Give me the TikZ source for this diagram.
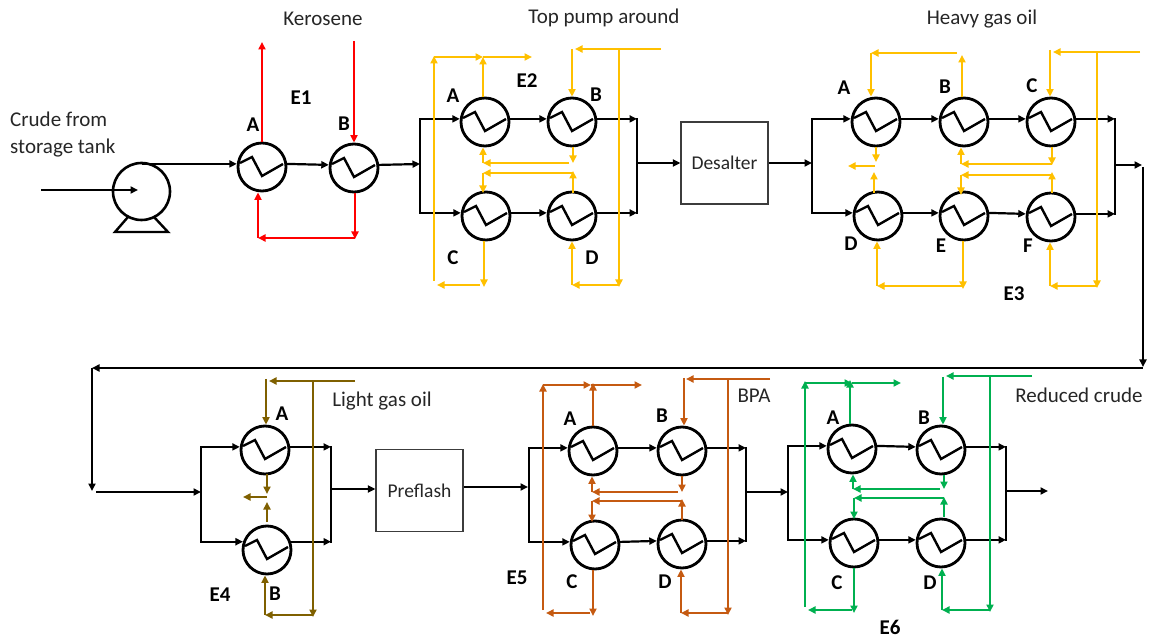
\documentclass[tikz,border=0pt]{standalone}
\usepackage{fontspec}
\setmainfont{Carlito}
\usetikzlibrary{arrows.meta}
\definecolor{corng}{HTML}{FFC000}
\definecolor{cred}{HTML}{FF0000}
\definecolor{colive}{HTML}{7F6000}
\definecolor{crust}{HTML}{C55A11}
\definecolor{cgrn}{HTML}{00B050}
\definecolor{ctext}{HTML}{262626}
\tikzset{
  x=1pt,y=-1pt,
  tip/.style={-{Triangle[length=7.5pt,width=7pt]}},
  flowb/.style={black,line width=2.2pt,tip},
  bar/.style={black,line width=2.4pt,line cap=rect},
  redl/.style={cred,line width=2.3pt,tip},
  orng/.style={corng,line width=2.3pt,tip},
  oliv/.style={colive,line width=2.3pt,tip},
  rust/.style={crust,line width=2.3pt,tip},
  grn/.style={cgrn,line width=2.3pt,tip},
  hxc/.style={circle,draw=black,line width=2.8pt,minimum size=48pt,inner sep=0pt},
  hxz/.style={black,line width=2.4pt,line join=miter},
  unitbox/.style={draw=ctext!90,line width=1.2pt,minimum width=87pt,minimum height=82pt,inner sep=0pt,text=ctext,font=\fontsize{19.5}{23}\selectfont},
  lab/.style={text=ctext,inner sep=0pt,font=\fontsize{21}{27}\selectfont},
  tag/.style={text=black,inner sep=0pt,font=\fontsize{21}{24}\selectfont\bfseries},
}
\newcommand{\hxnode}[3]{%
  \node[hxc] (#1) at (#2,#3) {};
  \draw[hxz,shift={(#1.center)}] (-22,-4) -- (-10,-10) -- (0,9) -- (21,-3);
}
\begin{document}
\begin{tikzpicture}
\useasboundingbox (0,0) rectangle (1149,636);

% ---- text
\node[lab,align=left,anchor=west] (tcrude) at (10,134.5) {Crude from\\storage tank};
\node[lab] (tker) at (323,19) {Kerosene};
\node[lab] (ttop) at (604,18) {Top pump around};
\node[lab] (thgo) at (982,19) {Heavy gas oil};
\node[lab] (tlgo) at (382,401) {Light gas oil};
\node[lab] (tbpa) at (754,396) {BPA};
\node[lab] (trc) at (1079,395) {Reduced crude};

\node[tag] (te1) at (301,98) {E1};
\node[tag] (te2) at (527,81) {E2};
\node[tag] (te3) at (1014,294) {E3};
\node[tag] (te4) at (220,595) {E4};
\node[tag] (te5) at (517,578) {E5};
\node[tag] (te6) at (890,627) {E6};

\node[tag] (l1a) at (253,125) {A};
\node[tag] (l1b) at (344,124) {B};
\node[tag] (l2a) at (453,96) {A};
\node[tag] (l2b) at (596,95) {B};
\node[tag] (l2c) at (453,258) {C};
\node[tag] (l2d) at (592,258) {D};
\node[tag] (l3a) at (844,88) {A};
\node[tag] (l3b) at (945,87) {B};
\node[tag] (l3c) at (1032,86) {C};
\node[tag] (l3d) at (851,244) {D};
\node[tag] (l3e) at (941,246) {E};
\node[tag] (l3f) at (1028,246) {F};
\node[tag] (l4a) at (282,414) {A};
\node[tag] (l4b) at (275,594) {B};
\node[tag] (l5a) at (570,419) {A};
\node[tag] (l5b) at (662,416) {B};
\node[tag] (l5c) at (572,582) {C};
\node[tag] (l5d) at (665,582) {D};
\node[tag] (l6a) at (833,418) {A};
\node[tag] (l6b) at (924,418) {B};
\node[tag] (l6c) at (837,583) {C};
\node[tag] (l6d) at (930,583) {D};

% ---- pump
\draw[black,line width=2.4pt,line join=miter] (128,217) -- (115,232) -- (168,232) -- (154,217);
\node[circle,draw=black,line width=2.6pt,minimum size=57pt,inner sep=0pt,fill=white] (pump) at (141.5,191.5) {};

% ---- exchangers
\hxnode{h1a}{262}{167} \hxnode{h1b}{354}{168}
\hxnode{h2a}{485}{122} \hxnode{h2b}{572}{122} \hxnode{h2c}{486}{216} \hxnode{h2d}{572}{216}
\hxnode{h3a}{876}{122} \hxnode{h3b}{964}{122} \hxnode{h3c}{1051}{122}
\hxnode{h3d}{878}{216} \hxnode{h3e}{964}{216} \hxnode{h3f}{1051}{217}
\hxnode{h4a}{265}{450} \hxnode{h4b}{267}{550}
\hxnode{h5a}{593}{451} \hxnode{h5b}{682}{451} \hxnode{h5c}{595}{545} \hxnode{h5d}{682}{544}
\hxnode{h6a}{852}{449} \hxnode{h6b}{941}{450} \hxnode{h6c}{854}{543} \hxnode{h6d}{941}{543}

\node[unitbox] (desalter) at (724.5,163) {Desalter};
\node[unitbox] (preflash) at (419.5,490.5) {Preflash};

% ---- process line
\coordinate (pin) at (41,190);
\coordinate (pintip) at (138,190);
\draw[flowb] (pin) -- (pintip);
\draw[flowb] (pump.north |- h1a.173) -- (h1a.173);
\draw[flowb] (h1a.7) -- (h1b.173);

\coordinate (j2) at (420,164);
\coordinate (r2) at (637,163);
\draw[flowb] (h1b.7) -- (j2);
\draw[bar] (j2 |- h2a.173) -- (j2 |- h2c.173);
\draw[flowb] (j2 |- h2a.173) -- (h2a.173);
\draw[flowb] (j2 |- h2c.173) -- (h2c.173);
\draw[flowb] (h2a.7) -- (h2b.173);
\draw[flowb] (h2c.7) -- (h2d.173);
\draw[bar] (r2 |- h2b.7) -- (r2 |- h2d.7);
\draw[flowb] (h2b.7) -- (r2 |- h2b.7);
\draw[flowb] (h2d.7) -- (r2 |- h2d.7);
\draw[flowb] (r2) -- (r2 -| desalter.west);

\coordinate (j3) at (812,163);
\coordinate (r3) at (1115,165);
\coordinate (e3tip) at (1142,165);
\coordinate (v1) at (1143,167);
\coordinate (v2) at (1143,367);
\coordinate (v3) at (92,368);
\coordinate (v4) at (92,491);
\draw[flowb] (desalter.east) -- (j3);
\draw[bar] (j3 |- h3a.173) -- (j3 |- h3d.173);
\draw[flowb] (j3 |- h3a.173) -- (h3a.173);
\draw[flowb] (j3 |- h3d.173) -- (h3d.173);
\draw[flowb] (h3a.7) -- (h3b.173);
\draw[flowb] (h3b.7) -- (h3c.173);
\draw[flowb] (h3d.7) -- (h3e.173);
\draw[flowb] (h3e.7) -- (h3f.173);
\draw[bar] (r3 |- h3c.7) -- (r3 |- h3f.7);
\draw[flowb] (h3c.7) -- (r3 |- h3c.7);
\draw[flowb] (h3f.7) -- (r3 |- h3f.7);
\draw[flowb] (r3) -- (e3tip);
\draw[flowb] (v1) -- (v2);
\draw[flowb] (v2 |- v3) -- (v3);
\draw[flowb] (v3) -- (v4);

\coordinate (i4) at (96,492);
\coordinate (j4) at (201,492);
\coordinate (r4) at (331,489);
\coordinate (o4) at (528,487);
\draw[flowb] (i4) -- (j4);
\draw[bar] (j4 |- h4a.173) -- (j4 |- h4b.161);
\draw[flowb] (j4 |- h4a.173) -- (h4a.173);
\draw[flowb] (j4 |- h4b.161) -- (h4b.161);
\draw[bar] (r4 |- h4a.7) -- (r4 |- h4b.19);
\draw[flowb] (h4a.7) -- (r4 |- h4a.7);
\draw[flowb] (h4b.19) -- (r4 |- h4b.19);
\draw[flowb] (r4) -- (r4 -| preflash.west);
\draw[flowb] (o4 -| preflash.east) -- (o4);

\coordinate (j5) at (529,487);
\coordinate (r5) at (746,492);
\coordinate (o5) at (788,492);
\draw[bar] (j5 |- h5a.173) -- (j5 |- h5c.173);
\draw[flowb] (j5 |- h5a.173) -- (h5a.173);
\draw[flowb] (j5 |- h5c.173) -- (h5c.173);
\draw[flowb] (h5a.7) -- (h5b.173);
\draw[flowb] (h5c.7) -- (h5d.173);
\draw[bar] (r5 |- h5b.7) -- (r5 |- h5d.7);
\draw[flowb] (h5b.7) -- (r5 |- h5b.7);
\draw[flowb] (h5d.7) -- (r5 |- h5d.7);
\draw[flowb] (r5) -- (o5);

\coordinate (j6) at (788,492);
\coordinate (r6) at (1006,491);
\coordinate (o6) at (1048,491);
\draw[bar] (j6 |- h6a.173) -- (j6 |- h6c.173);
\draw[flowb] (j6 |- h6a.173) -- (h6a.173);
\draw[flowb] (j6 |- h6c.173) -- (h6c.173);
\draw[flowb] (h6a.7) -- (h6b.173);
\draw[flowb] (h6c.7) -- (h6d.173);
\draw[bar] (r6 |- h6b.7) -- (r6 |- h6d.7);
\draw[flowb] (h6b.7) -- (r6 |- h6b.7);
\draw[flowb] (h6d.7) -- (r6 |- h6d.7);
\draw[flowb] (r6) -- (o6);

% ---- E1 kerosene
\coordinate (k1) at (262,42);
\coordinate (k2) at (354,41);
\coordinate (k3) at (355,239);
\coordinate (k4) at (258,238);
\draw[redl] (k1 |- h1a.north) -- (k1);
\draw[redl] (k2) -- (k2 |- h1b.north);
\draw[redl] (k3 |- h1b.south) -- (k3);
\draw[redl] (k3 |- k4) -- (k4);
\draw[redl] (k4) -- (k4 |- h1a.south);

% ---- E2 top pump around
\coordinate (a1) at (434,281);
\coordinate (a2) at (434,56);
\coordinate (a3) at (483,57);
\coordinate (a4) at (532,57);
\coordinate (a5) at (661,49);
\coordinate (a6) at (575,49);
\coordinate (a7) at (572,49);
\coordinate (a8) at (619,49);
\coordinate (a9) at (619,287);
\coordinate (a10) at (572,285);
\coordinate (a11) at (484,287);
\coordinate (a12) at (480,285);
\coordinate (a13) at (437,285);
\coordinate (a14) at (569,163);
\coordinate (a15) at (483,163);
\coordinate (a16) at (573,163);
\coordinate (a17) at (573,193);
\coordinate (a18) at (573,171);
\coordinate (a19) at (483,173);
\coordinate (a20) at (483,193);
\draw[orng] (a1) -- (a2);
\draw[orng] (a2 |- a3) -- (a3);
\draw[orng] (a3) -- (a4);
\draw[orng] (a3 |- h2a.north) -- (a3);
\draw[orng] (a5) -- (a6);
\draw[orng] (a7) -- (a7 |- h2b.north);
\draw[orng] (a8) -- (a9);
\draw[orng] (a8 |- a10) -- (a10);
\draw[orng] (a10) -- (a10 |- h2d.south);
\draw[orng] (a11 |- h2c.south) -- (a11);
\draw[orng] (a12) -- (a13);
\draw[orng] (a14) -- (a15);
\draw[orng] (a15) -- (a15 |- h2a.south);
\draw[orng] (a16 |- h2b.south) -- (a16);
\draw[orng] (a17) -- (a18);
\draw[orng] (a18 |- a19) -- (a19);
\draw[orng] (a19) -- (a20);

% ---- E3 heavy gas oil
\coordinate (b1) at (871,53);
\coordinate (b2) at (957,53);
\coordinate (b3) at (962,55);
\coordinate (b4) at (1050,50);
\coordinate (b5) at (1140,52);
\coordinate (b6) at (1053,52);
\coordinate (b7) at (1097,52);
\coordinate (b8) at (1097,288);
\coordinate (b9) at (1050,286);
\coordinate (b10) at (963,289);
\coordinate (b11) at (877,286);
\coordinate (b12) at (876,162);
\coordinate (b13) at (875,166);
\coordinate (b14) at (848,166);
\coordinate (b15) at (874,193);
\coordinate (b16) at (874,172);
\coordinate (b17) at (1052,165);
\coordinate (b18) at (961,164);
\coordinate (b19) at (1052,193);
\coordinate (b20) at (1052,172);
\coordinate (b21) at (961,175);
\coordinate (b22) at (961,195);
\draw[orng] (b2) -- (b1);
\draw[orng] (b1) -- (b1 |- h3a.north);
\draw[orng] (b3 |- h3b.north) -- (b3);
\draw[orng] (b5) -- (b6);
\draw[orng] (b4) -- (b4 |- h3c.north);
\draw[orng] (b7) -- (b8);
\draw[orng] (b7 |- b9) -- (b9);
\draw[orng] (b9) -- (b9 |- h3f.south);
\draw[orng] (b10 |- h3e.south) -- (b10);
\draw[orng] (b10 |- b11) -- (b11);
\draw[orng] (b11) -- (b11 |- h3d.south);
\draw[orng] (b12 |- h3a.south) -- (b12);
\draw[orng] (b13) -- (b14);
\draw[orng] (b15) -- (b16);
\draw[orng] (b17 |- h3c.south) -- (b17);
\draw[orng] (b17 |- b18) -- (b18);
\draw[orng] (b18) -- (b18 |- h3b.south);
\draw[orng] (b19) -- (b20);
\draw[orng] (b20 |- b21) -- (b21);
\draw[orng] (b21) -- (b22);

% ---- E4 light gas oil
\coordinate (c1) at (266,379);
\coordinate (c2) at (355,381);
\coordinate (c3) at (269,381);
\coordinate (c4) at (313,381);
\coordinate (c5) at (313,617);
\coordinate (c6) at (265,615);
\coordinate (c7) at (267,474);
\coordinate (c8) at (267,494);
\coordinate (c9) at (267,497);
\coordinate (c10) at (243,497);
\coordinate (c11) at (267,522);
\coordinate (c12) at (267,502);
\draw[oliv] (c1) -- (c1 |- h4a.north);
\draw[oliv] (c2) -- (c3);
\draw[oliv] (c4) -- (c5);
\draw[oliv] (c4 |- c6) -- (c6);
\draw[oliv] (c6) -- (c6 |- h4b.south);
\draw[oliv] (c7) -- (c8);
\draw[oliv] (c9) -- (c10);
\draw[oliv] (c11) -- (c12);

% ---- E5 BPA
\coordinate (d1) at (543,610);
\coordinate (d2) at (543,384);
\coordinate (d3) at (591,385);
\coordinate (d4) at (642,385);
\coordinate (d5) at (593,383);
\coordinate (d6) at (684,378);
\coordinate (d7) at (770,379);
\coordinate (d8) at (686,379);
\coordinate (d9) at (728,379);
\coordinate (d10) at (728,615);
\coordinate (d11) at (681,613);
\coordinate (d12) at (593,616);
\coordinate (d13) at (590,613);
\coordinate (d14) at (546,613);
\coordinate (d15) at (678,492);
\coordinate (d16) at (592,492);
\coordinate (d17) at (682,492);
\coordinate (d18) at (682,520);
\coordinate (d19) at (682,499);
\coordinate (d20) at (592,501);
\coordinate (d21) at (592,522);
\draw[rust] (d1) -- (d2);
\draw[rust] (d2 |- d3) -- (d3);
\draw[rust] (d3) -- (d4);
\draw[rust] (d5 |- h5a.north) -- (d5);
\draw[rust] (d7) -- (d8);
\draw[rust] (d6) -- (d6 |- h5b.north);
\draw[rust] (d9) -- (d10);
\draw[rust] (d9 |- d11) -- (d11);
\draw[rust] (d11) -- (d11 |- h5d.south);
\draw[rust] (d12 |- h5c.south) -- (d12);
\draw[rust] (d13) -- (d14);
\draw[rust] (d15) -- (d16);
\draw[rust] (d16) -- (d16 |- h5a.south);
\draw[rust] (d17 |- h5b.south) -- (d17);
\draw[rust] (d18) -- (d19);
\draw[rust] (d18 |- d20) -- (d20);
\draw[rust] (d20) -- (d21);

% ---- E6 reduced crude
\coordinate (f1) at (805,607);
\coordinate (f2) at (805,381);
\coordinate (f3) at (852,383);
\coordinate (f4) at (901,383);
\coordinate (f5) at (850,380);
\coordinate (f6) at (943,377);
\coordinate (f7) at (1032,376);
\coordinate (f8) at (946,376);
\coordinate (f9) at (990,376);
\coordinate (f10) at (990,612);
\coordinate (f11) at (942,610);
\coordinate (f12) at (854,613);
\coordinate (f13) at (852,610);
\coordinate (f14) at (808,610);
\coordinate (f15) at (940,489);
\coordinate (f16) at (853,489);
\coordinate (f17) at (944,489);
\coordinate (f18) at (944,517);
\coordinate (f19) at (944,497);
\coordinate (f20) at (854,498);
\coordinate (f21) at (854,519);
\draw[grn] (f1) -- (f2);
\draw[grn] (f2 |- f3) -- (f3);
\draw[grn] (f3) -- (f4);
\draw[grn] (f5 |- h6a.north) -- (f5);
\draw[grn] (f7) -- (f8);
\draw[grn] (f6) -- (f6 |- h6b.north);
\draw[grn] (f9) -- (f10);
\draw[grn] (f9 |- f11) -- (f11);
\draw[grn] (f11) -- (f11 |- h6d.south);
\draw[grn] (f12 |- h6c.south) -- (f12);
\draw[grn] (f13) -- (f14);
\draw[grn] (f15) -- (f16);
\draw[grn] (f16) -- (f16 |- h6a.south);
\draw[grn] (f17 |- h6b.south) -- (f17);
\draw[grn] (f18) -- (f19);
\draw[grn] (f18 |- f20) -- (f20);
\draw[grn] (f20) -- (f21);
\end{tikzpicture}
\end{document}
